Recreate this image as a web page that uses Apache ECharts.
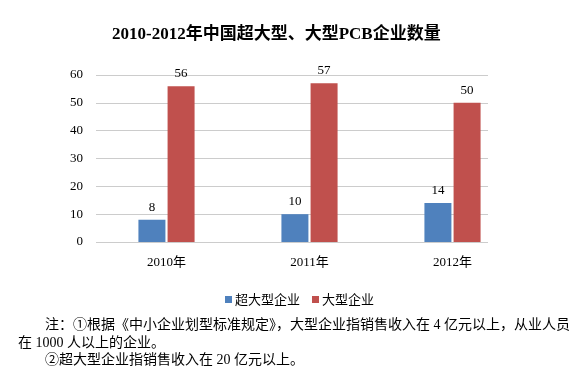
<!DOCTYPE html>
<html><head><meta charset="utf-8">
<script src="https://cdn.jsdelivr.net/npm/echarts@6/dist/echarts.min.js"></script>
<style>html,body{margin:0;padding:0;background:#fff}#c{width:578px;height:368px}</style>
</head><body><div id="c"></div>
<script>
const categories = ['2010年', '2011年', '2012年'];
const superLarge = [8, 10, 14];
const large = [56, 57, 50];
const seriesNames = ['超大型企业', '大型企业'];
const yTicks = { min: 0, max: 60, interval: 10 };
const titleText = '2010-2012年中国超大型、大型PCB企业数量';
const noteLines = [
  '注：①根据《中小企业划型标准规定》，大型企业指销售收入在 4 亿元以上，从业人员',
  '在 1000 人以上的企业。',
  '②超大型企业指销售收入在 20 亿元以上。'
];

const serif = '"Liberation Serif", "Noto Sans CJK SC", serif';
const chart = echarts.init(document.getElementById('c'));
chart.setOption({
  animation: false,
  textStyle: { fontFamily: serif, color: '#000' },
  grid: [
    { left: 96, right: 90, top: 75, bottom: 126 },
    { left: 95, right: 54, top: 75, bottom: 126 }
  ],
  xAxis: [
    { type: 'category', gridIndex: 0, data: categories, show: false },
    { type: 'category', gridIndex: 1, data: categories,
      axisLine: { show: false }, axisTick: { show: false },
      axisLabel: { fontFamily: serif, fontSize: 13, color: '#000', margin: 14 } }
  ],
  yAxis: [
    { type: 'value', gridIndex: 0, min: yTicks.min, max: yTicks.max, interval: yTicks.interval,
      axisLine: { show: false }, axisTick: { show: false },
      axisLabel: { fontFamily: serif, fontSize: 13, color: '#000', margin: 13 },
      splitLine: { lineStyle: { color: '#cccccc', width: 1 } } },
    { type: 'value', gridIndex: 1, min: yTicks.min, max: yTicks.max, interval: yTicks.interval, show: false,
      splitLine: { show: false } }
  ],
  legend: {
    data: seriesNames, left: 220, top: 288, icon: 'rect', itemWidth: 7, itemHeight: 7, itemGap: 12,
    textStyle: { fontFamily: '"Noto Sans CJK SC", sans-serif', fontSize: 13, color: '#000', padding: [0, 0, 0, -2] }
  },
  series: [
    { name: seriesNames[0], type: 'bar', xAxisIndex: 1, yAxisIndex: 1, data: superLarge,
      barWidth: 27, barGap: '8%', itemStyle: { color: '#4F81BD' },
      label: { show: true, position: 'top', fontFamily: serif, fontSize: 13, color: '#000', distance: 6 } },
    { name: seriesNames[1], type: 'bar', xAxisIndex: 1, yAxisIndex: 1, data: large,
      barWidth: 27, itemStyle: { color: '#C0504D' },
      label: { show: true, position: 'top', fontFamily: serif, fontSize: 13, color: '#000', distance: 6 } }
  ],
  graphic: [
    { type: 'text', left: 112, top: 26, style: { text: titleText, font: 'bold 17px ' + serif, fill: '#000' } },
    { type: 'text', left: 45, top: 318, style: { text: noteLines[0], font: '14px ' + serif, fill: '#000' } },
    { type: 'text', left: 18, top: 336, style: { text: noteLines[1], font: '14px ' + serif, fill: '#000' } },
    { type: 'text', left: 45, top: 353, style: { text: noteLines[2], font: '14px ' + serif, fill: '#000' } }
  ]
});
</script></body></html>
